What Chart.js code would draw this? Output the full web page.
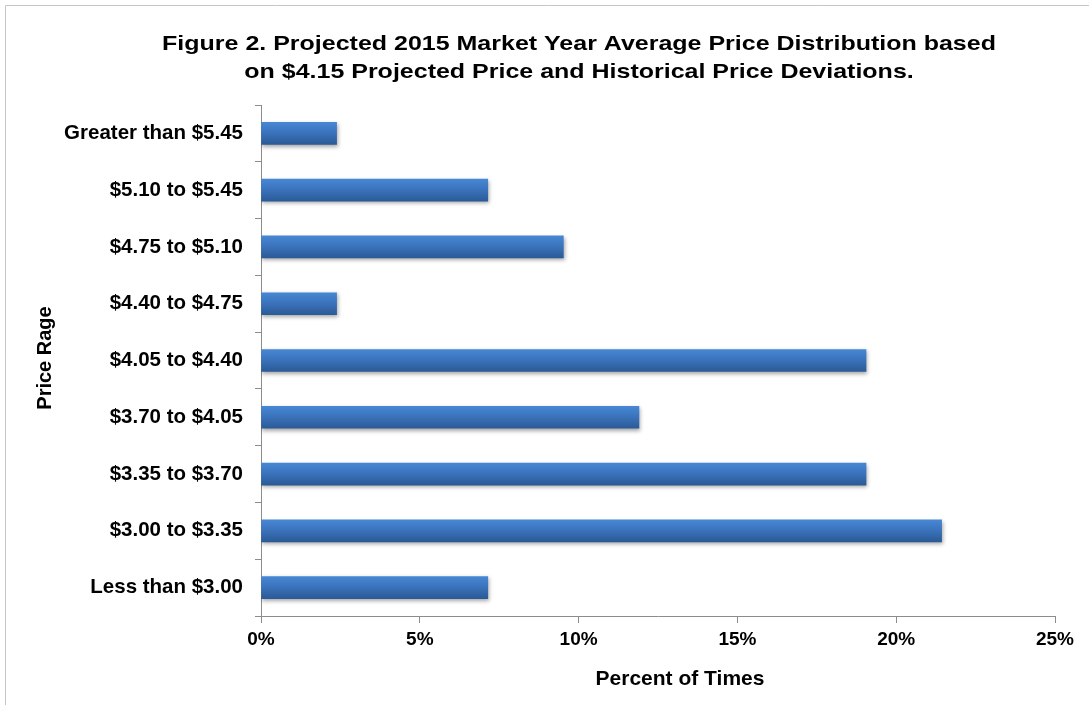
<!DOCTYPE html>
<html>
<head>
<meta charset="utf-8">
<script src="https://cdn.jsdelivr.net/npm/chart.js@4.4.0/dist/chart.umd.min.js"></script>
<style>
  html, body { margin: 0; padding: 0; background: #ffffff; }
  #wrap { width: 1089px; height: 705px; position: relative; }
</style>
</head>
<body>
<div id="wrap"><canvas id="c" width="1089" height="705"></canvas></div>
<script>
const categories = [
  "Greater than $5.45",
  "$5.10 to $5.45",
  "$4.75 to $5.10",
  "$4.40 to $4.75",
  "$4.05 to $4.40",
  "$3.70 to $4.05",
  "$3.35 to $3.70",
  "$3.00 to $3.35",
  "Less than $3.00"
];
const percentOfTimes = [2.38, 7.14, 9.52, 2.38, 19.05, 11.90, 19.05, 21.43, 7.14];
const xTicks = [0, 5, 10, 15, 20, 25];
const titleLines = [
  "Figure 2. Projected 2015 Market Year Average Price Distribution based",
  "on $4.15 Projected Price and Historical Price Deviations."
];
const xTitle = "Percent of Times";
const yTitle = "Price Rage";

const FONT = "'Liberation Sans', Arial, sans-serif";

const decorPlugin = {
  id: 'decor',
  beforeDraw(chart) {
    const ctx = chart.ctx;
    ctx.save();
    ctx.fillStyle = '#ffffff';
    ctx.fillRect(0, 0, chart.width, chart.height);
    ctx.strokeStyle = '#c6c6c6';
    ctx.lineWidth = 1;
    ctx.beginPath();
    ctx.moveTo(5.5, 720);
    ctx.lineTo(5.5, 5.5);
    ctx.lineTo(1100, 5.5);
    ctx.stroke();
    ctx.restore();
  },
  beforeDatasetsDraw(chart) {
    const ctx = chart.ctx;
    ctx.save();
    ctx.shadowColor = 'rgba(0,0,0,0.35)';
    ctx.shadowBlur = 4;
    ctx.shadowOffsetX = 1;
    ctx.shadowOffsetY = 2;
  },
  afterDatasetsDraw(chart) {
    chart.ctx.restore();
  },
  afterDraw(chart) {
    const ctx = chart.ctx;
    ctx.save();
    ctx.fillStyle = '#000000';
    ctx.textAlign = 'center';
    ctx.textBaseline = 'alphabetic';
    ctx.font = "bold 21px " + FONT;
    ctx.save();
    ctx.translate(579, 0);
    ctx.scale(1.19, 1);
    ctx.fillText(titleLines[0], 0, 50);
    ctx.fillText(titleLines[1], 0, 78);
    ctx.restore();
    ctx.font = "bold 21px " + FONT;
    ctx.fillText(xTitle, 680, 685);
    ctx.font = "bold 20px " + FONT;
    ctx.translate(51, 358);
    ctx.rotate(-Math.PI / 2);
    ctx.fillText(yTitle, 0, 0);
    ctx.restore();
  }
};

function barGradient(context) {
  const chart = context.chart;
  const yScale = chart.scales.y;
  if (!yScale || context.dataIndex === undefined) return '#3a6fb4';
  const cy = yScale.getPixelForValue(context.dataIndex);
  if (!isFinite(cy)) return '#3a6fb4';
  const g = chart.ctx.createLinearGradient(0, cy - 11, 0, cy + 11);
  g.addColorStop(0, '#4787d4');
  g.addColorStop(0.45, '#3b74bd');
  g.addColorStop(1, '#2b5a96');
  return g;
}

new Chart(document.getElementById('c'), {
  type: 'bar',
  data: {
    labels: categories,
    datasets: [{
      data: percentOfTimes,
      backgroundColor: barGradient,
      borderWidth: 0,
      barThickness: 22
    }]
  },
  options: {
    indexAxis: 'y',
    responsive: false,
    animation: false,
    devicePixelRatio: 1,
    layout: { padding: { left: 0, right: 34, top: 105, bottom: 0 } },
    plugins: {
      legend: { display: false },
      title: { display: false },
      tooltip: { enabled: false }
    },
    scales: {
      x: {
        type: 'linear',
        min: 0,
        max: 25,
        afterBuildTicks(scale) {
          scale.ticks = xTicks.map(v => ({ value: v }));
        },
        afterFit(scale) { scale.height = 89; },
        ticks: {
          callback: v => v + '%',
          color: '#000000',
          padding: 5,
          font: { family: FONT, size: 19, weight: 'bold' }
        },
        grid: {
          display: true,
          drawOnChartArea: false,
          drawTicks: true,
          tickLength: 7,
          color: '#8c8c8c',
          lineWidth: 1
        },
        border: { display: true, color: '#8c8c8c', width: 1 }
      },
      y: {
        type: 'category',
        afterFit(scale) { scale.width = 261; },
        ticks: {
          color: '#000000',
          padding: 12,
          font: { family: FONT, size: 20.5, weight: 'bold' }
        },
        grid: {
          display: true,
          offset: true,
          drawOnChartArea: false,
          drawTicks: true,
          tickLength: 6,
          color: '#8c8c8c',
          lineWidth: 1
        },
        border: { display: true, color: '#8c8c8c', width: 1 }
      }
    }
  },
  plugins: [decorPlugin]
});
</script>
</body>
</html>
